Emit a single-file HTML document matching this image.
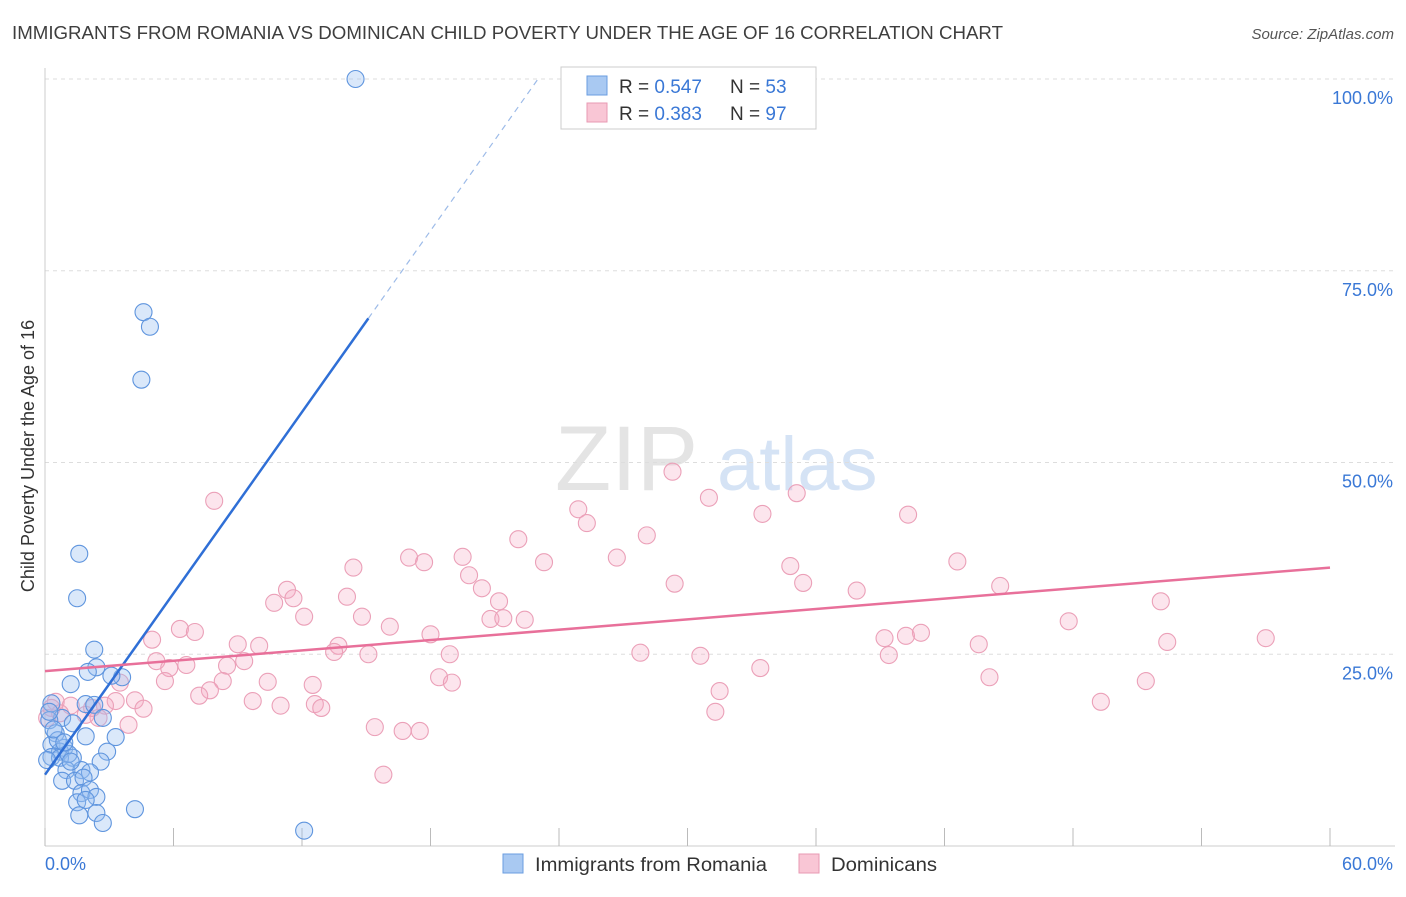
<!DOCTYPE html>
<html><head><meta charset="utf-8"><style>
body{margin:0;background:#fff;font-family:"Liberation Sans",sans-serif}
svg text{font-family:"Liberation Sans",sans-serif}
</style></head><body>
<svg id="chart" width="1406" height="892" xmlns="http://www.w3.org/2000/svg">
<text x="12" y="39" font-size="18" fill="#3e3e3e" textLength="991" lengthAdjust="spacingAndGlyphs">IMMIGRANTS FROM ROMANIA VS DOMINICAN CHILD POVERTY UNDER THE AGE OF 16 CORRELATION CHART</text>
<text x="1394" y="39" font-size="15" fill="#555" text-anchor="end" font-style="italic">Source: ZipAtlas.com</text>
<text x="555" y="490" font-size="92" fill="#e4e4e4" font-family="Liberation Serif">ZIP</text>
<text x="717" y="490" font-size="76" fill="#d5e3f5">atlas</text>
<text transform="translate(34,456) rotate(-90)" font-size="18" fill="#333" text-anchor="middle">Child Poverty Under the Age of 16</text>
<g id="grid"></g><g id="pts"></g><g id="lines"></g>
<g>
<rect x="561" y="67" width="255" height="62" fill="#fff" stroke="#ccc"/>
<rect x="587" y="76" width="20" height="19" fill="#a9c9f2" stroke="#6a9de0"/>
<rect x="587" y="103" width="20" height="19" fill="#f9c6d5" stroke="#e89ab3"/>
<text x="619" y="93" font-size="19" fill="#333">R = <tspan fill="#3a78d6">0.547</tspan></text>
<text x="730" y="93" font-size="19" fill="#333">N = <tspan fill="#3a78d6">53</tspan></text>
<text x="619" y="120" font-size="19" fill="#333">R = <tspan fill="#3a78d6">0.383</tspan></text>
<text x="730" y="120" font-size="19" fill="#333">N = <tspan fill="#3a78d6">97</tspan></text>
</g>
<g>
<rect x="503" y="854" width="20" height="19" fill="#a9c9f2" stroke="#6a9de0"/>
<text x="535" y="871" font-size="19" fill="#333" textLength="232" lengthAdjust="spacingAndGlyphs">Immigrants from Romania</text>
<rect x="799" y="854" width="20" height="19" fill="#f9c6d5" stroke="#e89ab3"/>
<text x="831" y="871" font-size="19" fill="#333" textLength="106" lengthAdjust="spacingAndGlyphs">Dominicans</text>
</g>
</svg>
<script>
const xTicks=[0,6,12,18,24,30,36,42,48,54,60];
const yTicks=[25,50,75,100];
const yTickLabels=["25.0%","50.0%","75.0%","100.0%"];
const blueX=[14.5,4.6,4.9,4.5,1.6,1.5,2.3,2.4,2.0,3.6,1.2,3.1,0.3,1.9,2.3,0.8,2.7,0.2,1.3,0.5,1.9,3.3,0.3,0.9,0.7,2.9,0.3,1.3,0.7,1.0,1.7,2.6,2.1,0.8,1.4,1.8,1.7,2.1,2.4,1.5,1.9,1.6,2.4,2.7,4.2,12.1,0.1,0.6,0.4,1.1,0.2,0.9,1.2];
const blueY=[100,69.6,67.7,60.8,38.1,32.3,25.6,23.3,22.7,22.0,21.1,22.2,18.6,18.5,18.4,16.7,16.7,16.4,16.0,14.7,14.3,14.2,13.2,12.8,12.3,12.3,11.6,11.5,11.5,9.9,9.9,11.0,9.6,8.5,8.5,8.9,6.9,7.3,6.4,5.7,6.0,4.0,4.3,3.0,4.8,2.0,11.2,13.8,15.2,12.0,17.5,13.5,11.0];
const pinkX=[29.3,7.9,31.0,35.1,24.9,25.3,33.5,40.3,28.1,22.1,17,17.7,19.5,23.3,26.7,42.6,14.4,34.8,19.8,29.4,35.4,44.6,20.4,37.9,11.3,11.6,14.1,21.2,10.7,52.1,12.1,14.8,20.8,21.4,22.4,47.8,16.1,6.3,7.0,18.0,40.9,40.2,39.2,57.0,52.4,5.0,9.0,10.0,13.7,43.6,13.5,15.1,18.9,27.8,30.6,39.4,5.2,6.6,5.8,8.5,9.3,33.4,18.4,19.0,44.1,51.4,5.6,8.3,10.4,12.5,3.5,7.7,7.2,31.5,4.2,3.3,9.7,49.3,12.6,11.0,12.9,0.5,1.2,2.8,4.6,2.5,31.3,1.9,3.9,15.4,16.7,17.5,15.8,0.1,0.7,0.3,2.2];
const pinkY=[48.8,45,45.4,46,43.9,42.1,43.3,43.2,40.5,40,37.6,37,37.7,37,37.6,37.1,36.3,36.5,35.3,34.2,34.3,33.9,33.6,33.3,33.4,32.3,32.5,31.9,31.7,31.9,29.9,29.9,29.6,29.7,29.5,29.3,28.6,28.3,27.9,27.6,27.8,27.4,27.1,27.1,26.6,26.9,26.3,26.1,26.1,26.3,25.3,25.0,25.0,25.2,24.8,24.9,24.1,23.6,23.2,23.5,24.1,23.2,22.0,21.3,22.0,21.5,21.5,21.5,21.4,21.0,21.3,20.3,19.6,20.2,19.0,18.9,18.9,18.8,18.5,18.3,18.0,18.8,18.3,18.3,17.9,16.7,17.5,17.1,15.8,15.5,15.0,15.0,9.3,16.7,17.3,18.0,18.0];
const blueTrend=[9.3,3.94];
const pinkTrend=[22.8,0.225];
const NS="http://www.w3.org/2000/svg";
const sx=v=>45+v/60*1285;
const sy=v=>846-v/100*767;
function mk(tag,attrs,parent){const e=document.createElementNS(NS,tag);for(const k in attrs)e.setAttribute(k,attrs[k]);parent.appendChild(e);return e;}
const grid=document.getElementById('grid');
yTicks.forEach((t,i)=>{
 const l=mk('line',{x1:45,x2:1395,y1:sy(t),y2:sy(t),stroke:'#ddd','stroke-dasharray':'4,4'},grid);
 
 
 const tx=mk('text',{x:1393,y:sy(t)+25,'font-size':18,fill:'#3a78d6','text-anchor':'end'},grid);
 tx.textContent=yTickLabels[i];
 
 
});
const ax=mk('line',{x1:45,x2:45,y1:68,y2:846,stroke:'#ccc'},grid);


const bx=mk('line',{x1:45,x2:1395,y1:846,y2:846,stroke:'#ccc'},grid);


xTicks.forEach(t=>{
 const l=mk('line',{x1:sx(t),x2:sx(t),y1:828,y2:846,stroke:'#bbb'},grid);
 
 
});
const xl0=mk('text',{x:45,y:870,'font-size':18,fill:'#3a78d6'},grid);xl0.textContent=xTicks[0].toFixed(1)+'%';


const xl1=mk('text',{x:1393,y:870,'font-size':18,fill:'#3a78d6','text-anchor':'end'},grid);xl1.textContent=xTicks[xTicks.length-1].toFixed(1)+'%';


const pts=document.getElementById('pts');
pinkX.forEach((x,i)=>{const c=mk('circle',{cx:sx(x),cy:sy(pinkY[i]),r:8.5,fill:'rgba(245,170,195,0.3)',stroke:'#eba0b8','stroke-width':1.1},pts);
 
 });
blueX.forEach((x,i)=>{const c=mk('circle',{cx:sx(x),cy:sy(blueY[i]),r:8.5,fill:'rgba(150,190,240,0.35)',stroke:'#5f95de','stroke-width':1.1},pts);
 
 });
const lines=document.getElementById('lines');
const bx1=15.1,bx2=(100-blueTrend[0])/blueTrend[1];
const b1=mk('line',{x1:sx(0),y1:sy(blueTrend[0]),x2:sx(bx1),y2:sy(blueTrend[0]+blueTrend[1]*bx1),stroke:'#2f6fd6','stroke-width':2.5},lines);


const b2=mk('line',{x1:sx(bx1),y1:sy(blueTrend[0]+blueTrend[1]*bx1),x2:sx(bx2),y2:sy(100),stroke:'#9dbbe8','stroke-width':1.2,'stroke-dasharray':'6,5'},lines);


const p1=mk('line',{x1:sx(0),y1:sy(pinkTrend[0]),x2:sx(60),y2:sy(pinkTrend[0]+pinkTrend[1]*60),stroke:'#e8709a','stroke-width':2.5},lines);


</script>
</body></html>
